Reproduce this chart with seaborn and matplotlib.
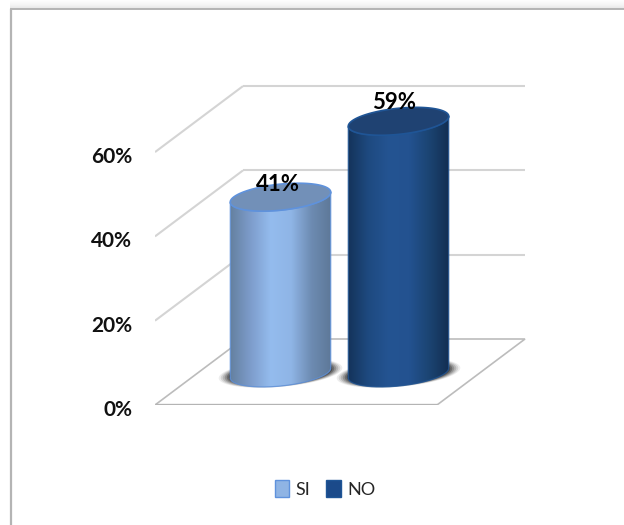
import numpy as np
import pandas as pd
import matplotlib
matplotlib.use("Agg")
import matplotlib.pyplot as plt
import seaborn as sns
from matplotlib.colors import LinearSegmentedColormap
from matplotlib.lines import Line2D
from matplotlib.patches import Patch, Polygon, Rectangle
from matplotlib.path import Path
from matplotlib.transforms import ScaledTranslation

# ---- data
categories = ["SI", "NO"]
values = [41, 59]
value_labels = ["41%", "59%"]
y_ticks = [0, 20, 40, 60]
y_tick_labels = ["0%", "20%", "40%", "60%"]

# ---- style
side_colors = {"SI": ["#64809f", "#7d9ccb", "#94bcee", "#8fb5e6", "#6d8bb2", "#5d7797"],
               "NO": ["#14335a", "#1e4a80", "#245492", "#235290", "#1b4472", "#122d50"]}
top_colors = {"SI": "#7290b8", "NO": "#1f4272"}
edge_colors = {"SI": "#5f92dc", "NO": "#1f5596"}
legend_colors = {"SI": "#8fb4e4", "NO": "#1b4a8a"}
label_offsets = {"SI": (-2.5, 13), "NO": (-4.5, 19)}

FONT = "Lato"
W, H = 624, 525
sns.set_theme(style="white")
plt.rcParams["font.family"] = [FONT, "DejaVu Sans"]

fig = plt.figure(figsize=(W / 100, H / 100), dpi=100, facecolor="white")

# layout (pixels of the output)
AX_L, AX_R, AX_B, AX_T = 155, 530, 405, 60
PX_PER_UNIT_Y = 84.3 / 20
PX_PER_CAT = 118
SI_CENTER = 280.5
ax = fig.add_axes([AX_L / W, (H - AX_B) / H, (AX_R - AX_L) / W, (AX_B - AX_T) / H])
ax.patch.set_alpha(0)

df = pd.DataFrame({"cat": categories, "val": values})
sns.barplot(data=df, x="cat", y="val", hue="cat", order=categories, width=0.86,
            palette=legend_colors, legend=False, ax=ax, zorder=3)

xlim = ((AX_L - SI_CENTER) / PX_PER_CAT, (AX_R - SI_CENTER) / PX_PER_CAT)
ylim = (0, (AX_B - AX_T) / PX_PER_UNIT_Y)
FRONT_W = 282 / PX_PER_CAT
DEPTH_X = 88 / PX_PER_CAT
DEPTH_Y = 66 / PX_PER_UNIT_Y
AXIS_Y = 35 / PX_PER_UNIT_Y   # height of the value zero on the cylinder axis
BASE_Y = 32 / PX_PER_UNIT_Y   # drawn base of the cylinder

# walls and floor
grid_kw = dict(color="#d4d4d4", lw=1.5, zorder=1, solid_capstyle="butt")
for v in y_ticks[1:]:
    ax.plot([xlim[0], xlim[0] + DEPTH_X], [v, v + DEPTH_Y], **grid_kw)
    ax.plot([xlim[0] + DEPTH_X, xlim[0] + DEPTH_X + FRONT_W], [v + DEPTH_Y] * 2, **grid_kw)
floor_x = [xlim[0], xlim[0] + FRONT_W, xlim[0] + FRONT_W + DEPTH_X, xlim[0] + DEPTH_X]
floor_y = [0, 0, DEPTH_Y, DEPTH_Y]
ax.add_patch(Polygon(np.c_[floor_x, floor_y], closed=True, fc="white", ec="#bcbcbc", lw=1.2, zorder=1))
ax.plot(floor_x[:2], [0, 0], color="#b4b4b4", lw=2.4, zorder=1, solid_capstyle="butt")


def ellipse(cx, cy, a=50.5, b=13.0, angle=6.0, t=None):
    """Tilted ellipse around (cx, cy), sizes in pixels, result in data units."""
    t = np.linspace(0, 2 * np.pi, 181) if t is None else t
    th = np.deg2rad(angle)
    xp = a * np.cos(t) * np.cos(th) - b * np.sin(t) * np.sin(th)
    yp = a * np.cos(t) * np.sin(th) + b * np.sin(t) * np.cos(th)
    return cx + xp / PX_PER_CAT, cy + yp / PX_PER_UNIT_Y


for cat, value, bar in zip(categories, values, ax.patches):
    cx = bar.get_x() + bar.get_width() / 2
    top = value + AXIS_Y
    bar.set_y(AXIS_Y)
    bar.set_alpha(0)

    # soft shadow on the floor
    for grow, alpha in zip([12, 10, 8, 6, 4, 2], [0.08, 0.12, 0.16, 0.22, 0.30, 0.40]):
        xs, ys = ellipse(cx, BASE_Y, a=50 + grow, b=12 + grow * 0.15, angle=5)
        ax.fill(xs, ys, color="#1a1a1a", alpha=alpha, lw=0, zorder=2)

    # body: gradient image clipped to the cylinder outline
    arc = np.linspace(np.pi, 2 * np.pi, 91)
    bx, by = ellipse(cx, BASE_Y, t=arc)
    tx, ty = ellipse(cx, top, t=arc[::-1])
    body = Path(np.r_[np.c_[bx, by], np.c_[tx, ty], [[bx[0], by[0]]]])
    cmap = LinearSegmentedColormap.from_list(cat, side_colors[cat])
    half = bar.get_width() / 2
    im = ax.imshow(np.linspace(0, 1, 256)[None, :], cmap=cmap, aspect="auto",
                   extent=(cx - half, cx + half, 0, top + 10), zorder=3)
    im.set_clip_path(body, ax.transData)
    ax.plot(np.r_[bx, tx, bx[0]], np.r_[by, ty, by[0]], color=edge_colors[cat], lw=0.9, alpha=0.8, zorder=3.1)

    # top cap
    ex, ey = ellipse(cx, top)
    ax.fill(ex, ey, fc=top_colors[cat], ec=edge_colors[cat], lw=1.2, zorder=3.2)

    # value label
    dx, dy = label_offsets[cat]
    ax.annotate(value_labels[categories.index(cat)], (cx, top), xytext=(dx * 0.72, dy * 0.72),
                textcoords="offset points", ha="center", va="center",
                fontsize=16, fontweight="bold", color="black", zorder=5, family=FONT)

ax.set_xlim(*xlim)
ax.set_ylim(*ylim)
ax.set_xlabel("")
ax.set_ylabel("")
ax.set_xticks([])
ax.set_yticks(y_ticks)
ax.set_yticklabels(y_tick_labels, fontsize=15, fontweight="bold", color="#111111")
ax.tick_params(axis="y", length=0, pad=16.5)
shift = ScaledTranslation(0, -3 / 100, fig.dpi_scale_trans)
for lab in ax.get_yticklabels():
    lab.set_transform(lab.get_transform() + shift)
sns.despine(ax=ax, left=True, bottom=True)

# legend
handles = [Patch(fc=legend_colors[c], ec=edge_colors[c], lw=1, label=c) for c in categories]
fig.legend(handles=handles, loc="center", bbox_to_anchor=(325 / W, (H - 489) / H), ncol=2, frameon=False,
           handlelength=0.8, handleheight=1.1, handletextpad=0.35, columnspacing=0.9,
           borderpad=0, prop={"family": FONT, "size": 13})

# outer chart frame with soft top shadow
for i, a in zip(range(9), [0.02, 0.03, 0.05, 0.07, 0.09, 0.12, 0.16, 0.2, 0.28]):
    fig.add_artist(Rectangle((10 / W, (H - i - 1) / H), (W - 10) / W, 1 / H, transform=fig.transFigure,
                             fc="#9a9a9a", alpha=a, lw=0))
fig.add_artist(Line2D([11 / W, 11 / W], [0, (H - 9) / H], color="#b4b4b4", lw=1.6))
fig.add_artist(Line2D([11 / W, 1], [(H - 9) / H] * 2, color="#b4b4b4", lw=1.4))

fig.savefig("out.png", dpi=100, facecolor="white")
